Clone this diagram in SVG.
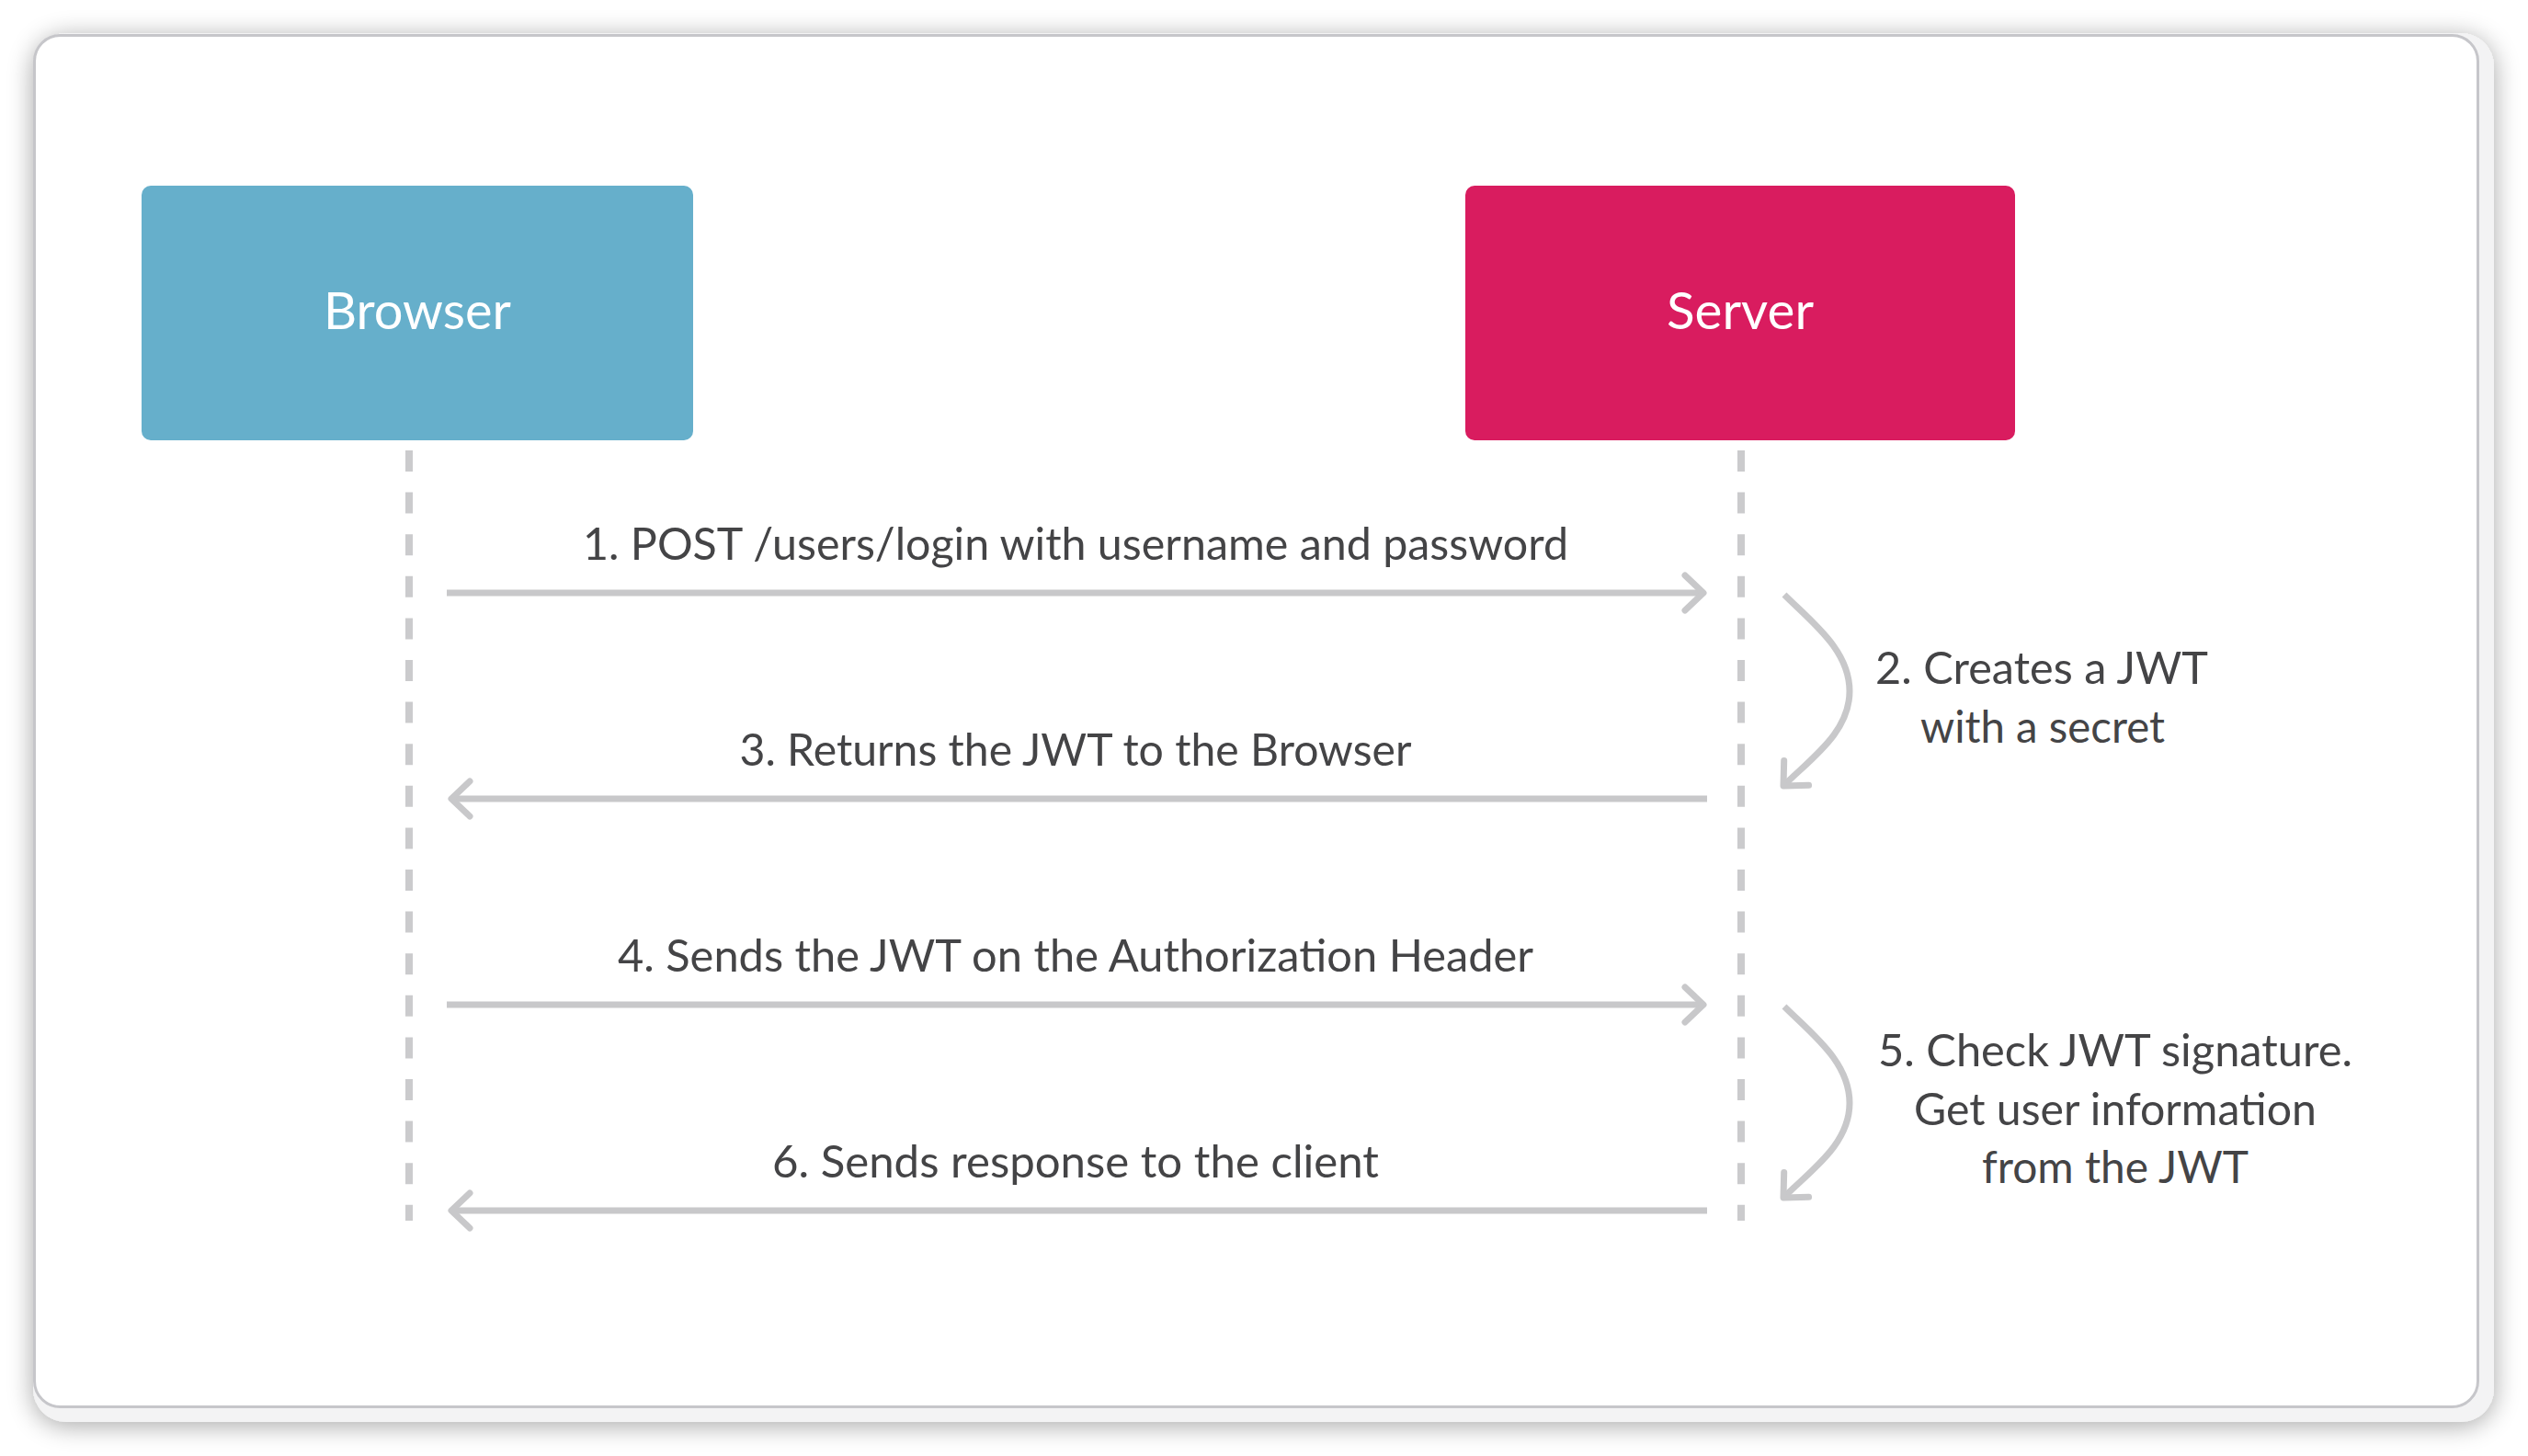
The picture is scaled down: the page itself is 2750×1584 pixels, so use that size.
<svg xmlns="http://www.w3.org/2000/svg" width="2750" height="1584" viewBox="0 0 2750 1584">
  <defs>
    <filter id="shadow" x="-5%" y="-5%" width="110%" height="112%">
      <feGaussianBlur in="SourceAlpha" stdDeviation="14"/>
      <feOffset dx="0" dy="4" result="b"/>
      <feComponentTransfer><feFuncA type="linear" slope="0.35"/></feComponentTransfer>
      <feMerge><feMergeNode/><feMergeNode in="SourceGraphic"/></feMerge>
    </filter>
    <marker id="chev" markerUnits="userSpaceOnUse" viewBox="-30 -30 40 60" refX="0" refY="0" markerWidth="40" markerHeight="60" orient="auto" overflow="visible">
      <path d="M-20,-19 L0,0 L-20,19" fill="none" stroke="#c8c8ca" stroke-width="7" stroke-linecap="round" stroke-linejoin="round"/>
    </marker>
    <style>
      .lbl { font-family: Lato, "Noto Sans", "Liberation Sans", sans-serif; font-size: 48px; fill: #444446; text-anchor: middle; }
      .title { font-family: Lato, "Noto Sans", "Liberation Sans", sans-serif; font-size: 56px; fill: #ffffff; text-anchor: middle; }
      .msg { fill: none; stroke: #c8c8ca; stroke-width: 7; marker-end: url(#chev); }
      .life { fill: none; stroke: #cbcbcd; stroke-width: 8; stroke-dasharray: 23 22.6; }
    </style>
  </defs>

  <rect width="2750" height="1584" fill="#ffffff"/>
  <!-- card frame -->
  <g id="frame">
    <rect x="36" y="36" width="2677" height="1511" rx="36" fill="#f3f3f4" filter="url(#shadow)"/>
    <rect x="37.5" y="38.5" width="2658" height="1492" rx="28" fill="#ffffff" stroke="#c6c6ca" stroke-width="3"/>
  </g>

  <g id="lifelines">
    <line class="life" x1="445" y1="490" x2="445" y2="1328"/>
    <line class="life" x1="1894" y1="490" x2="1894" y2="1328"/>
  </g>

  <g id="node-browser">
    <rect x="154" y="202" width="600" height="277" rx="10" fill="#66afcb"/>
    <text class="title" x="454" y="358" textLength="204" lengthAdjust="spacingAndGlyphs">Browser</text>
  </g>
  <g id="node-server">
    <rect x="1594" y="202" width="598" height="277" rx="10" fill="#d91c5f"/>
    <text class="title" x="1893" y="358" textLength="160" lengthAdjust="spacingAndGlyphs">Server</text>
  </g>

  <g id="connectors">
    <path class="msg" d="M486,645 L1853,645"/>
    <path class="msg" d="M1857,869 L491,869"/>
    <path class="msg" d="M486,1093 L1853,1093"/>
    <path class="msg" d="M1857,1317 L491,1317"/>
    <path class="msg" d="M1941,647 C1971,677 2012,707 2012,752 C2012,797 1970,825 1940,855"/>
    <path class="msg" d="M1941,1095 C1971,1125 2012,1155 2012,1200 C2012,1245 1970,1273 1940,1303"/>
  </g>

  <g id="labels">
    <text class="lbl" x="1170" y="609" textLength="1072" lengthAdjust="spacingAndGlyphs">1. POST /users/login with username and password</text>
    <text class="lbl" x="1170" y="833" textLength="731" lengthAdjust="spacingAndGlyphs">3. Returns the JWT to the Browser</text>
    <text class="lbl" x="1170" y="1057" textLength="996" lengthAdjust="spacingAndGlyphs">4. Sends the JWT on the Authorization Header</text>
    <text class="lbl" x="1170" y="1281" textLength="660" lengthAdjust="spacingAndGlyphs">6. Sends response to the client</text>
    <text class="lbl" x="2221" y="744" textLength="362" lengthAdjust="spacingAndGlyphs">2. Creates a JWT</text>
    <text class="lbl" x="2222" y="808" textLength="266" lengthAdjust="spacingAndGlyphs">with a secret</text>
    <text class="lbl" x="2301" y="1160" textLength="516" lengthAdjust="spacingAndGlyphs">5. Check JWT signature.</text>
    <text class="lbl" x="2301" y="1224" textLength="438" lengthAdjust="spacingAndGlyphs">Get user information</text>
    <text class="lbl" x="2301" y="1287" textLength="290" lengthAdjust="spacingAndGlyphs">from the JWT</text>
  </g>
</svg>
